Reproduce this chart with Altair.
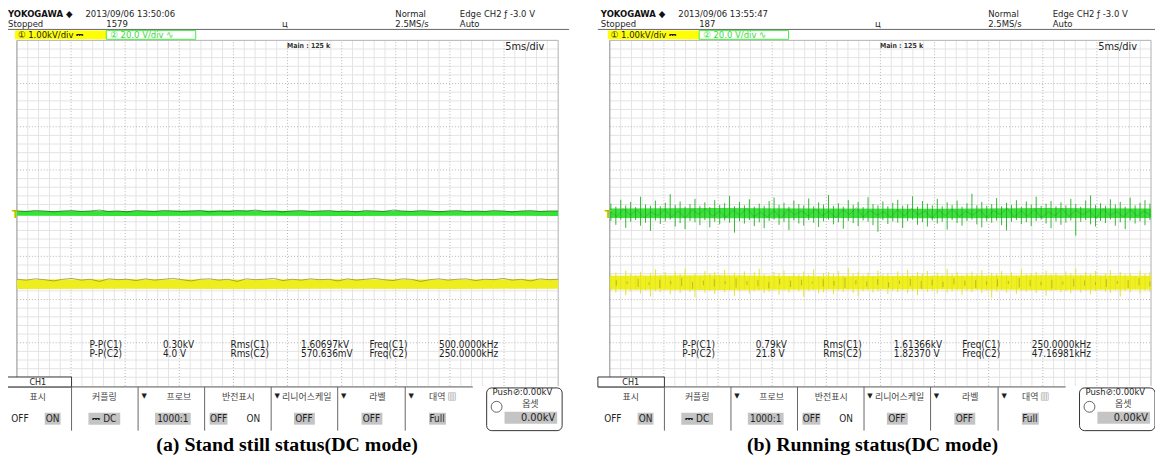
import altair as alt
import numpy as np
import pandas as pd

# ---------------- values ----------------
captions = ["(a) Stand still status(DC mode)", "(b) Running status(DC mode)"]
timestamps = ["2013/09/06 13:50:06", "2013/09/06 13:55:47"]
acq_counts = ["1579", "187"]
meas_names_c1 = ["P-P(C1)", "Rms(C1)", "Freq(C1)"]
meas_names_c2 = ["P-P(C2)", "Rms(C2)", "Freq(C2)"]
meas_vals_c1 = [["0.30kV", "1.60697kV", "500.0000kHz"], ["0.79kV", "1.61366kV", "250.0000kHz"]]
meas_vals_c2 = [["4.0 V", "570.636mV", "250.0000kHz"], ["21.8 V", "1.82370 V", "47.16981kHz"]]
menu_labels = ["표시", "커플링", "프로브", "반전표시", "리니어스케일", "라벨", "대역"]

# traces, in screen divisions (0 = centre line, 8 divisions tall, 10 wide)
band_t = [0, 2, 4, 6, 8, 10]
a_green_hi = [0.05, 0.05, 0.06, 0.05, 0.05, 0.05]
a_green_lo = [-0.06, -0.065, -0.06, -0.065, -0.06, -0.065]
a_yellow_hi = [-1.535, -1.53, -1.535, -1.53, -1.535, -1.53]
a_yellow_lo = [-1.755, -1.75, -1.755, -1.75, -1.755, -1.75]
a_green_dark = [0.05, 0.04, 0.06, 0.05, 0.03, 0.05, 0.06, 0.04, 0.05, 0.07, 0.04, 0.05, 0.03, 0.06, 0.05,
                0.04, 0.06, 0.05, 0.04, 0.05, 0.06, 0.03, 0.05, 0.04, 0.06, 0.05, 0.07, 0.04, 0.05, 0.03,
                0.05, 0.06, 0.04, 0.05, 0.06, 0.04, 0.05, 0.03, 0.06, 0.05, 0.04, 0.07, 0.05, 0.04, 0.06,
                0.05, 0.03, 0.05, 0.06, 0.04, 0.05, 0.04, 0.06, 0.05, 0.03, 0.05, 0.06, 0.04, 0.05, 0.05]
a_yellow_dark = [-1.53, -1.55, -1.52, -1.54, -1.57, -1.53, -1.51, -1.55, -1.53, -1.58,
                 -1.52, -1.54, -1.53, -1.56, -1.52, -1.55, -1.53, -1.51, -1.54, -1.57,
                 -1.53, -1.52, -1.55, -1.53, -1.58, -1.52, -1.54, -1.53, -1.51, -1.56,
                 -1.53, -1.55, -1.52, -1.54, -1.53, -1.57, -1.52, -1.55, -1.53, -1.51,
                 -1.54, -1.56, -1.52, -1.53, -1.58, -1.54, -1.52, -1.55, -1.53, -1.52,
                 -1.56, -1.53, -1.54, -1.51, -1.55, -1.53, -1.57, -1.52, -1.54, -1.53]

b_green_hi_band = [0.11, 0.12, 0.11, 0.10, 0.12, 0.11]
b_green_lo_band = [-0.11, -0.12, -0.11, -0.12, -0.11, -0.11]
b_yellow_hi_band = [-1.45, -1.44, -1.46, -1.45, -1.44, -1.45]
b_yellow_lo_band = [-1.77, -1.78, -1.77, -1.76, -1.78, -1.77]

b_green_hi = [0.22, 0.15, 0.31, 0.18, 0.26, 0.14, 0.38, 0.20, 0.17, 0.29,
              0.16, 0.24, 0.44, 0.19, 0.27, 0.15, 0.21, 0.33, 0.17, 0.25,
              0.14, 0.30, 0.19, 0.23, 0.40, 0.16, 0.26, 0.18, 0.32, 0.15,
              0.22, 0.17, 0.28, 0.36, 0.19, 0.24, 0.15, 0.29, 0.21, 0.18,
              0.34, 0.16, 0.25, 0.20, 0.42, 0.17, 0.23, 0.15, 0.30, 0.19,
              0.26, 0.14, 0.37, 0.21, 0.18, 0.27, 0.16, 0.24, 0.31, 0.17,
              0.20, 0.39, 0.15, 0.28, 0.22, 0.18, 0.33, 0.16, 0.25, 0.19,
              0.29, 0.15, 0.23, 0.45, 0.18, 0.26, 0.17, 0.21, 0.35, 0.16,
              0.24, 0.19, 0.30, 0.15, 0.27, 0.20, 0.38, 0.17, 0.22, 0.28,
              0.16, 0.25, 0.18, 0.33, 0.21, 0.15, 0.29, 0.41, 0.19, 0.23,
              0.17, 0.32, 0.20, 0.26, 0.15, 0.36, 0.18, 0.24, 0.30, 0.22]
b_green_lo = [-0.18, -0.27, -0.15, -0.34, -0.20, -0.16, -0.29, -0.22, -0.41, -0.17,
              -0.25, -0.19, -0.15, -0.31, -0.23, -0.37, -0.18, -0.21, -0.28, -0.16,
              -0.33, -0.20, -0.26, -0.17, -0.22, -0.45, -0.19, -0.24, -0.16, -0.30,
              -0.21, -0.35, -0.18, -0.15, -0.27, -0.20, -0.39, -0.17, -0.24, -0.29,
              -0.16, -0.22, -0.32, -0.19, -0.15, -0.26, -0.21, -0.36, -0.18, -0.23,
              -0.30, -0.17, -0.20, -0.28, -0.43, -0.16, -0.25, -0.19, -0.22, -0.34,
              -0.18, -0.15, -0.27, -0.21, -0.31, -0.17, -0.24, -0.20, -0.38, -0.16,
              -0.23, -0.29, -0.18, -0.15, -0.26, -0.33, -0.19, -0.22, -0.17, -0.28,
              -0.40, -0.20, -0.16, -0.25, -0.21, -0.30, -0.18, -0.15, -0.24, -0.35,
              -0.19, -0.27, -0.22, -0.17, -0.52, -0.20, -0.16, -0.26, -0.31, -0.18,
              -0.23, -0.15, -0.29, -0.21, -0.37, -0.17, -0.24, -0.19, -0.28, -0.16]
b_yellow_hi = [-1.42, -1.38, -1.46, -1.33, -1.40, -1.44, -1.36, -1.47, -1.39, -1.30,
               -1.43, -1.37, -1.45, -1.35, -1.41, -1.28, -1.44, -1.39, -1.46, -1.34,
               -1.40, -1.36, -1.43, -1.31, -1.45, -1.38, -1.42, -1.35, -1.47, -1.37,
               -1.29, -1.41, -1.44, -1.36, -1.40, -1.33, -1.45, -1.38, -1.42, -1.35,
               -1.43, -1.30, -1.46, -1.39, -1.37, -1.41, -1.34, -1.44, -1.27, -1.40,
               -1.36, -1.43, -1.38, -1.45, -1.33, -1.41, -1.39, -1.46, -1.35, -1.42,
               -1.31, -1.44, -1.37, -1.40, -1.34, -1.45, -1.38, -1.43, -1.29, -1.41,
               -1.36, -1.44, -1.39, -1.35, -1.42, -1.32, -1.46, -1.38, -1.40, -1.34,
               -1.43, -1.37, -1.45, -1.30, -1.41, -1.39, -1.36, -1.44, -1.33, -1.42,
               -1.38, -1.46, -1.35, -1.40, -1.28, -1.43, -1.37, -1.41, -1.34, -1.45,
               -1.39, -1.32, -1.44, -1.36, -1.42, -1.38, -1.46, -1.33, -1.40, -1.37]
b_yellow_lo = [-1.79, -1.84, -1.76, -1.90, -1.81, -1.77, -1.86, -1.78, -1.93, -1.80,
               -1.83, -1.76, -1.88, -1.79, -1.85, -1.77, -1.82, -1.95, -1.78, -1.84,
               -1.80, -1.87, -1.76, -1.83, -1.79, -1.91, -1.81, -1.77, -1.86, -1.80,
               -1.78, -1.85, -1.82, -1.76, -1.89, -1.79, -1.84, -1.77, -1.81, -1.94,
               -1.80, -1.78, -1.86, -1.83, -1.76, -1.88, -1.79, -1.82, -1.77, -1.85,
               -1.92, -1.80, -1.78, -1.84, -1.81, -1.76, -1.87, -1.79, -1.83, -1.78,
               -1.85, -1.80, -1.90, -1.77, -1.82, -1.79, -1.86, -1.76, -1.84, -1.81,
               -1.78, -1.89, -1.80, -1.83, -1.77, -1.85, -1.79, -1.96, -1.81, -1.78,
               -1.84, -1.76, -1.87, -1.80, -1.82, -1.79, -1.85, -1.77, -1.91, -1.80,
               -1.78, -1.83, -1.81, -1.86, -1.76, -1.84, -1.79, -1.88, -1.80, -1.77,
               -1.82, -1.85, -1.78, -1.93, -1.80, -1.83, -1.76, -1.86, -1.79, -1.81]
b_green_dark = [0.06, -0.08, 0.10, -0.04, 0.07, -0.11, 0.03, -0.06, 0.09, -0.09,
                0.05, -0.12, 0.08, -0.03, 0.11, -0.07, 0.04, -0.10, 0.07, -0.05,
                0.12, -0.08, 0.02, -0.09, 0.06, -0.13, 0.09, -0.04, 0.05, -0.07,
                0.10, -0.06, 0.04, -0.11, 0.08, -0.03, 0.13, -0.09, 0.06, -0.05,
                0.03, -0.10, 0.09, -0.07, 0.11, -0.04, 0.05, -0.12, 0.07, -0.06,
                0.10, -0.08, 0.04, -0.05, 0.08, -0.11, 0.06, -0.03, 0.12, -0.09,
                0.05, -0.07, 0.09, -0.10, 0.03, -0.06, 0.11, -0.08, 0.07, -0.04,
                0.06, -0.12, 0.10, -0.05, 0.04, -0.09, 0.08, -0.07, 0.05, -0.06]
b_yellow_dark_hi = [-1.55, -1.58, -1.52, -1.60, -1.54, -1.57, -1.50, -1.59, -1.56, -1.53,
                    -1.58, -1.51, -1.57, -1.55, -1.60, -1.52, -1.56, -1.54, -1.59, -1.53,
                    -1.57, -1.50, -1.55, -1.58, -1.53, -1.60, -1.56, -1.52, -1.57, -1.54,
                    -1.59, -1.51, -1.56, -1.55, -1.58, -1.53, -1.57, -1.50, -1.55, -1.59,
                    -1.54, -1.58, -1.52, -1.56, -1.60, -1.53, -1.57, -1.55, -1.51, -1.58]
b_yellow_dark_lo = [-1.68, -1.64, -1.71, -1.66, -1.73, -1.65, -1.69, -1.75, -1.67, -1.70,
                    -1.64, -1.72, -1.66, -1.69, -1.74, -1.65, -1.71, -1.67, -1.63, -1.70,
                    -1.68, -1.73, -1.65, -1.70, -1.66, -1.72, -1.64, -1.69, -1.75, -1.67,
                    -1.71, -1.65, -1.68, -1.73, -1.66, -1.70, -1.64, -1.72, -1.69, -1.67,
                    -1.74, -1.65, -1.70, -1.68, -1.66, -1.71, -1.64, -1.73, -1.67, -1.69]

# ---------------- layout ----------------
W, H = 1155, 451
DX = [0, 597]                  # horizontal shift of panel (b)
GRID_X = [(9, 554), (606, 1151)]
GRID_Y = (379, 31)
NARROW = "Liberation Sans Narrow, DejaVu Sans Condensed, Arial Narrow, sans-serif"
KR = "Noto Sans CJK KR, sans-serif"
SERIF = "Liberation Serif, Times New Roman, serif"
ONE = pd.DataFrame({"k": [0]})


def xs(p):
    return alt.Scale(domain=[0, 10], range=list(GRID_X[p]), nice=False, zero=False)


YS = alt.Scale(domain=[-4, 4], range=list(GRID_Y), nice=False, zero=False)


def X(field, p):
    return alt.X(field, type="quantitative", scale=xs(p), axis=None)


def Y(field):
    return alt.Y(field, type="quantitative", scale=YS, axis=None)


def px(x, p):
    return x + DX[p] - 8


def py(y):
    return y - 8


def txt(s, x, y, p, size=10, align="left", color="#1e1e1e", font=NARROW, weight="normal"):
    return alt.Chart(ONE).mark_text(text=s, align=align, baseline="middle", fontSize=size,
                                    font=font, fontWeight=weight, color=color).encode(
        x=alt.value(px(x, p)), y=alt.value(py(y)))


def box(x1, y1, x2, y2, p, fill="white", stroke=None, sw=1.0, r=0, fo=1.0):
    kw = dict(fill=fill, fillOpacity=fo)
    if stroke:
        kw.update(stroke=stroke, strokeWidth=sw)
    if r:
        kw["cornerRadius"] = r
    return alt.Chart(ONE).mark_rect(**kw).encode(
        x=alt.value(px(x1, p)), x2=alt.value(px(x2, p)), y=alt.value(py(y1)), y2=alt.value(py(y2)))


def line(x1, y1, x2, y2, p, color="#333", sw=1.0):
    return alt.Chart(ONE).mark_rule(color=color, strokeWidth=sw).encode(
        x=alt.value(px(x1, p)), x2=alt.value(px(x2, p)), y=alt.value(py(y1)), y2=alt.value(py(y2)))


def grid(p):
    minor_x = [round(v, 1) for v in np.arange(0.2, 10, 0.2) if abs(v - round(v)) > 1e-6]
    major_x = list(range(1, 10))
    minor_y = [round(v, 1) for v in np.arange(-3.8, 4, 0.2) if abs(v - round(v)) > 1e-6]
    major_y = list(range(-3, 4))
    out = []
    dfx = pd.DataFrame({"v": minor_x, "a": -4, "b": 4})
    out.append(alt.Chart(dfx).mark_rule(color="#e4e4e4", strokeWidth=1).encode(
        x=X("v", p), y=Y("a"), y2="b"))
    dfy = pd.DataFrame({"v": minor_y, "a": 0, "b": 10})
    out.append(alt.Chart(dfy).mark_rule(color="#e4e4e4", strokeWidth=1).encode(
        y=Y("v"), x=X("a", p), x2="b"))
    dfx = pd.DataFrame({"v": major_x, "a": -4, "b": 4})
    out.append(alt.Chart(dfx).mark_rule(color="#b4b4b4", strokeWidth=1, strokeDash=[1, 2]).encode(
        x=X("v", p), y=Y("a"), y2="b"))
    dfy = pd.DataFrame({"v": major_y, "a": 0, "b": 10})
    out.append(alt.Chart(dfy).mark_rule(color="#b4b4b4", strokeWidth=1, strokeDash=[1, 2]).encode(
        y=Y("v"), x=X("a", p), x2="b"))
    # frame
    out.append(alt.Chart(pd.DataFrame({"v": [0], "a": -4, "b": 4})).mark_rule(
        color="#8a8a8a", strokeWidth=1).encode(x=X("v", p), y=Y("a"), y2="b"))
    out.append(alt.Chart(pd.DataFrame({"v": [10], "a": -4, "b": 4})).mark_rule(
        color="#b0b0b0", strokeWidth=1).encode(x=X("v", p), y=Y("a"), y2="b"))
    out.append(alt.Chart(pd.DataFrame({"v": [4], "a": 0, "b": 10})).mark_rule(
        color="#b0b0b0", strokeWidth=1).encode(y=Y("v"), x=X("a", p), x2="b"))
    return out


def band(p, lo, hi, color, op=1.0):
    df = pd.DataFrame({"t": band_t, "lo": lo, "hi": hi})
    return alt.Chart(df).mark_area(color=color, opacity=op).encode(x=X("t", p), y=Y("hi"), y2="lo")


def trace(p, vals, color, sw=1.0, op=1.0):
    df = pd.DataFrame({"t": np.linspace(0, 10, len(vals)), "v": vals})
    return alt.Chart(df).mark_line(color=color, strokeWidth=sw, opacity=op).encode(
        x=X("t", p), y=Y("v"))


def spikes(p, lo, hi, color, sw=1.0, op=1.0, start=0.02):
    df = pd.DataFrame({"t": np.linspace(start, 9.98, len(lo)), "lo": lo, "hi": hi})
    return alt.Chart(df).mark_rule(color=color, strokeWidth=sw, opacity=op).encode(
        x=X("t", p), y=Y("hi"), y2="lo")


def panel(p):
    L = []
    L += grid(p)
    # traces
    if p == 0:
        L.append(band(p, a_yellow_lo, a_yellow_hi, "#eeee1e"))
        L.append(trace(p, a_yellow_dark, "#6e6e22", 0.8, 0.7))
        L.append(band(p, a_green_lo, a_green_hi, "#33e433"))
        L.append(trace(p, a_green_dark, "#1d4f1d", 0.8, 0.8))
    else:
        L.append(band(p, b_yellow_lo_band, b_yellow_hi_band, "#efef22"))
        L.append(spikes(p, b_yellow_lo, b_yellow_hi, "#e4e41c", 1.0, 0.95))
        L.append(spikes(p, b_yellow_dark_lo, b_yellow_dark_hi, "#7a7a20", 0.8, 0.55, start=0.12))
        L.append(band(p, b_green_lo_band, b_green_hi_band, "#3ee03e"))
        L.append(spikes(p, b_green_lo, b_green_hi, "#1fae1f", 1.0, 0.9))
        L.append(trace(p, b_green_dark, "#1a5e1a", 0.5, 0.45))
    # trigger marker
    L.append(txt("T", 12, 215, p, size=10, color="#a8c400", font="DejaVu Sans", weight="bold"))

    # header
    hs = 9.5
    L.append(txt("YOKOGAWA ◆", 8, 12.5, p, size=hs, weight="bold", color="#111"))
    L.append(txt(timestamps[p], 86, 12.5, p, size=hs))
    L.append(txt("Stopped", 8, 22.5, p, size=hs))
    L.append(txt(acq_counts[p], 107, 22.5, p, size=hs))
    L.append(txt("ц", 284, 22.5, p, size=hs))
    L.append(txt("Normal", 398, 12.5, p, size=hs))
    L.append(txt("2.5MS/s", 398, 22.5, p, size=hs))
    L.append(txt("Edge CH2 ƒ -3.0 V", 463, 12.5, p, size=hs))
    L.append(txt("Auto", 463, 22.5, p, size=hs))
    L.append(line(5, 28, 573, 28, p, "#666", 1))
    L.append(box(15, 29, 107, 38, p, fill="#ffff00"))
    L.append(txt("① 1.00kV/div ⎓", 18, 33.5, p, size=9.5, color="#222"))
    L.append(box(107, 29, 197, 38, p, fill="white", stroke="#44ee44", sw=1))
    L.append(txt("② 20.0 V/div ∿", 111, 33.5, p, size=9.5, color="#38d838"))
    L.append(txt("Main : 125 k", 289, 45, p, size=7, weight="bold", color="#333"))
    L.append(txt("5ms/div", 548, 46, p, size=11, align="right", color="#222"))

    # measurements
    xs_cols = [90, 164, 232, 303, 372, 442]
    for i in range(3):
        L.append(txt(meas_names_c1[i], xs_cols[2 * i], 346, p, size=10))
        L.append(txt(meas_vals_c1[p][i], xs_cols[2 * i + 1], 346, p, size=10))
        L.append(txt(meas_names_c2[i], xs_cols[2 * i], 355, p, size=10))
        L.append(txt(meas_vals_c2[p][i], xs_cols[2 * i + 1], 355, p, size=10))

    # bottom menu
    L.append(box(5, 388, 476, 432, p, fill="white"))
    L.append(line(5, 388, 476, 388, p, "#555", 1))
    L.append(box(5, 378, 72, 388, p, fill="white", stroke="#333", sw=1))
    L.append(txt("CH1", 38, 383, p, size=9, align="center"))
    for sx in [72, 139, 206, 273, 340, 408]:
        L.append(line(sx, 388, sx, 432, p, "#666", 1))
    L.append(txt(menu_labels[0], 38, 398, p, size=9, align="center", font=KR, color="#444"))
    L.append(txt(menu_labels[1], 105, 398, p, size=9, align="center", font=KR, color="#444"))
    L.append(txt("▼", 145, 397, p, size=7, align="center", font="DejaVu Sans"))
    L.append(txt(menu_labels[2], 180, 398, p, size=9, align="center", font=KR, color="#444"))
    L.append(txt(menu_labels[3], 240, 398, p, size=9, align="center", font=KR, color="#444"))
    L.append(txt("▼", 279, 397, p, size=7, align="center", font="DejaVu Sans"))
    L.append(txt(menu_labels[4], 284, 398, p, size=9, font=KR, color="#444"))
    L.append(txt("▼", 346, 397, p, size=7, align="center", font="DejaVu Sans"))
    L.append(txt(menu_labels[5], 380, 398, p, size=9, align="center", font=KR, color="#444"))
    L.append(txt("▼", 414, 397, p, size=7, align="center", font="DejaVu Sans"))
    L.append(txt(menu_labels[6] + "  ▥", 432, 398, p, size=9, font=KR, color="#444"))
    # value row
    for (x1, x2) in [(45, 61), (89, 121), (156, 192), (211, 229), (296, 317), (364, 385), (432, 449)]:
        L.append(box(x1, 414, x2, 426, p, fill="#c4c4c4"))
    L.append(txt("OFF", 20, 420, p, size=10, align="center"))
    L.append(txt("ON", 53, 420, p, size=10, align="center"))
    L.append(txt("⎓ DC", 105, 420, p, size=10, align="center"))
    L.append(txt("1000:1", 174, 420, p, size=10, align="center"))
    L.append(txt("OFF", 220, 420, p, size=10, align="center"))
    L.append(txt("ON", 255, 420, p, size=10, align="center"))
    L.append(txt("OFF", 306, 420, p, size=10, align="center"))
    L.append(txt("OFF", 374, 420, p, size=10, align="center"))
    L.append(txt("Full", 440, 420, p, size=10, align="center"))
    # offset knob box
    L.append(box(490, 389, 566, 432, p, fill="white", stroke="#333", sw=1, r=5))
    L.append(txt("Push⊘:0.00kV", 496, 393, p, size=9.5))
    L.append(txt("옵셋", 534, 405, p, size=9, align="center", font=KR, color="#444"))
    L.append(alt.Chart(ONE).mark_point(shape="circle", size=120, filled=False, stroke="#222",
                                       strokeWidth=1).encode(x=alt.value(px(500, p)), y=alt.value(py(408))))
    L.append(box(508, 413, 561, 425, p, fill="#c4c4c4"))
    L.append(txt("0.00kV", 559, 419, p, size=11, align="right"))

    # caption
    cx = [289, 281.5][p]
    L.append(txt(captions[p], cx, 447, p, size=20, align="center", font=SERIF, weight="bold", color="#000"))
    return L


layers = panel(0) + panel(1)
chart = alt.layer(*layers).resolve_scale(x="independent").properties(
    width=W, height=H, padding=0, autosize=alt.AutoSizeParams(type="none"),
    background="white"
).configure_view(stroke=None)

chart.save("out.html", embed_options={"renderer": "svg", "actions": False})
